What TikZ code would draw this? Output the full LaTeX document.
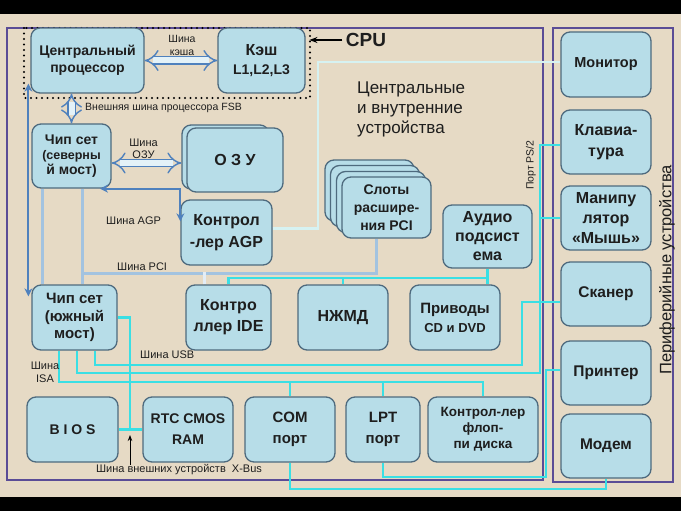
\documentclass[tikz,border=0pt]{standalone}
\usepackage{fontspec}
\setmainfont{Liberation Sans}
\usetikzlibrary{arrows.meta}
\definecolor{paper}{HTML}{E6DAC5}
\definecolor{boxfill}{HTML}{B7DDE8}
\definecolor{boxline}{HTML}{4E6A7E}
\definecolor{frameline}{HTML}{5A4C96}
\definecolor{wirecyan}{HTML}{3ADFE4}
\definecolor{pciblue}{HTML}{A3C3E0}
\definecolor{busblue}{HTML}{4F81BD}
\definecolor{palecyan}{HTML}{D6F2F2}
\definecolor{hollowfill}{HTML}{E4F2F8}
\definecolor{txt}{HTML}{1E1E1E}
\newcommand{\sz}[2]{\fontsize{#1}{#2}\selectfont}

\begin{document}
\begin{tikzpicture}[x=1pt, y=-1pt,
	box/.style={draw=boxline, fill=boxfill, line width=1.3pt, rounded corners=9pt, align=center, text=txt, minimum height=65pt, inner sep=1pt},
	wire/.style={draw=wirecyan, line width=2.2pt},
	pcibus/.style={draw=pciblue, line width=3pt},
	paleline/.style={draw=palecyan, line width=2.5pt},
	busarrow/.style={draw=busblue, line width=2pt},
	hollow/.style={draw=busblue, double=hollowfill, double distance=6pt, line width=1.4pt, {Implies}-{Implies}},
	lbl/.style={text=txt, font=\sz{11}{12.5}, align=center, inner sep=0pt},
	outline/.style={draw=frameline, line width=1.5pt}]
	\fill[black] (0,0) rectangle (681,511);
	\fill[paper] (0,14) rectangle (681,497);
	\draw[outline] (7,28) rectangle (543,480);
	\draw[outline] (553,28) rectangle (673,482);
	\draw[black, line width=2.4pt, line cap=round, dash pattern=on 0pt off 5.5pt] (24,28) rectangle (310,98);

	\node[box, minimum width=113pt, font=\bfseries\sz{14}{17}] (cpu) at (87.5,60.5) {Центральный\\процессор};
	\node[box, minimum width=87pt, font=\bfseries\sz{16}{19}] (cache) at (261.5,60.5) {Кэш\\\sz{14}{17}L1,L2,L3};
	\node[box, minimum width=79pt, minimum height=64pt, font=\bfseries\sz{14}{15}] (north) at (71.5,156) {Чип сет\\\sz{12.5}{15}(северны\\й мост)};
	\node[box, minimum width=87pt, minimum height=64pt] (ramback) at (225.5,157) {};
	\node[box, minimum width=96pt, minimum height=64pt, font=\bfseries\sz{16}{19}] (ram) at (235,160) {О З У};
	\node[box, minimum width=91pt, font=\bfseries\sz{16}{22}] (agp) at (226.5,232.5) {Контрол\\-лер AGP};
	\node[box, minimum width=89pt, minimum height=61pt] (slotsC) at (369.5,190.5) {};
	\node[box, minimum width=89pt, minimum height=61pt] (slotsB) at (375,196) {};
	\node[box, minimum width=89pt, minimum height=61pt] (slotsA) at (381,202) {};
	\node[box, minimum width=89pt, minimum height=61pt, font=\bfseries\sz{14}{18}] (slots) at (386.5,207.5) {Слоты\\расшире-\\ния PCI};
	\node[box, minimum width=89pt, minimum height=63pt, font=\bfseries\sz{16}{19}] (audio) at (487.5,236.5) {Аудио\\подсист\\ема};
	\node[box, minimum width=85pt, font=\bfseries\sz{15}{17.5}] (south) at (74.5,317.5) {Чип сет\\(южный\\мост)};
	\node[box, minimum width=85pt, font=\bfseries\sz{16}{21}] (ide) at (228.5,317.5) {Контро\\ллер IDE};
	\node[box, minimum width=90pt, font=\bfseries\sz{16}{19}] (hdd) at (343,317.5) {НЖМД};
	\node[box, minimum width=90pt, font=\bfseries\sz{15}{19}] (drives) at (455,317.5) {Приводы\\\sz{13}{19}CD и DVD};
	\node[box, minimum width=91pt, font=\bfseries\sz{14}{17}] (bios) at (72.5,429.5) {B I O S};
	\node[box, minimum width=90pt, font=\bfseries\sz{14}{21}] (rtc) at (188,429.5) {RTC CMOS\\RAM};
	\node[box, minimum width=90pt, font=\bfseries\sz{15}{21}] (com) at (290,429.5) {COM\\порт};
	\node[box, minimum width=74pt, font=\bfseries\sz{15}{21}] (lpt) at (383,429.5) {LPT\\порт};
	\node[box, minimum width=110pt, font=\bfseries\sz{13.5}{16}] (flop) at (483,429.5) {Контрол-лер\\флоп-\\пи диска};
	\node[box, minimum width=90pt, font=\bfseries\sz{14.5}{17}] (monitor) at (606,64.5) {Монитор};
	\node[box, minimum width=90pt, minimum height=64pt, font=\bfseries\sz{16}{21}] (kbd) at (606,142) {Клавиа-\\тура};
	\node[box, minimum width=90pt, minimum height=64pt, font=\bfseries\sz{16}{20}] (mouse) at (606,218) {Манипу\\лятор\\«Мышь»};
	\node[box, minimum width=90pt, minimum height=64pt, font=\bfseries\sz{15.5}{18}] (scanner) at (606,294) {Сканер};
	\node[box, minimum width=90pt, minimum height=64pt, font=\bfseries\sz{15.5}{18}] (printer) at (606,373) {Принтер};
	\node[box, minimum width=90pt, minimum height=64pt, font=\bfseries\sz{15.5}{18}] (modem) at (606,446) {Модем};

	\coordinate (nsA) at (42,0);
	\coordinate (nsB) at (82,0);
	\coordinate (pcibus) at (0,273);
	\coordinate (drvbus) at (0,278);
	\coordinate (usbbus) at (522,365);
	\coordinate (ps2bus) at (540,373);
	\coordinate (isabus) at (0,382);
	\coordinate (xbus) at (130,430);
	\coordinate (lptbus) at (546,477);
	\coordinate (agpturn) at (318,62);

	\draw[pcibus] (north.south -| nsA) -- (south.north -| nsA);
	\draw[pcibus] (north.south -| nsB) -- (south.north -| nsB);
	\draw[pcibus] (nsB |- pcibus) -| ([xshift=-10pt]slots.south);
	\draw[draw=white!70!pciblue, line width=2.5pt] ([xshift=-24pt]ide.north) -- ++(0,-12);

	\draw[wire] (ide.north) |- (audio.south |- drvbus);
	\draw[wire] (hdd.north) -- (hdd.north |- drvbus);
	\draw[wire] (audio.south) -- (drives.north -| audio.south);
	\draw[wire] ([xshift=20.5pt]south.south) |- (usbbus) |- ([yshift=-8pt]scanner.west);
	\draw[wire] ([xshift=2.5pt]south.south) |- (ps2bus) |- ([yshift=-3pt]kbd.west);
	\draw[wire] (ps2bus |- mouse.west) -- (mouse.west);
	\draw[wire] ([xshift=-15.5pt]south.south) |- (flop.north |- isabus) -- (flop.north);
	\draw[wire] (com.north |- isabus) -- (com.north);
	\draw[wire] (lpt.north |- isabus) -- (lpt.north);
	\draw[wire] (south.east) -| (xbus);
	\draw[wire] (bios.east) -- (rtc.west);
	\draw[wire] (com.south) |- ([yshift=-10pt]modem.south) -- (modem.south);
	\draw[wire] (lpt.south) |- (lptbus) |- ([yshift=3pt]printer.west);
	\draw[paleline] ([yshift=4pt]agp.east) -| (agpturn) |- ([yshift=2.5pt]monitor.west);

	\draw[busarrow, {Stealth[length=8pt,width=8pt]}-{Stealth[length=8pt,width=8pt]}] ([xshift=28.5pt]north.south) -| ([yshift=-22pt]agp.north west);
	\draw[busarrow, {Stealth[length=8pt,width=8pt]}-{Stealth[length=8pt,width=8pt]}] ([xshift=-2pt,yshift=10pt]cpu.south west) -- ([xshift=-3pt,yshift=-12pt]south.north west);
	\draw[hollow] (cpu.east) -- (cache.west);
	\draw[hollow] (north.north |- cpu.south) -- (north.north);
	\draw[hollow] ([yshift=-7pt]north.east) -- ([yshift=-7pt]north.east -| ramback.west);

	\node[lbl, font=\sz{10.5}{12.5}] (cachebuslbl) at (182,45.5) {Шина\\кэша};
	\node[lbl, font=\sz{10.5}{12}, anchor=west] (fsblbl) at (85,108) {Внешняя шина процессора FSB};
	\node[lbl] (rambuslbl) at (143.5,149) {Шина\\ОЗУ};
	\node[lbl, anchor=west] (agpbuslbl) at (106,221) {Шина AGP};
	\node[lbl, anchor=west] (pcibuslbl) at (117,267) {Шина PCI};
	\node[lbl, anchor=west] (usbbuslbl) at (140,355) {Шина USB};
	\node[lbl] (isabuslbl) at (45,372.5) {Шина\\ISA};
	\node[lbl, rotate=90, font=\sz{10.5}{12}] (ps2lbl) at (531,165) {Порт PS/2};
	\node[lbl, anchor=north west, align=left, font=\sz{17}{20}] (innerlbl) at (357,82) {Центральные\\и внутренние\\устройства};
	\node[lbl, rotate=90, font=\sz{16.5}{18}] (perilbl) at (667,270) {Периферийные устройства};
	\node[text=txt, font=\bfseries\sz{19}{20}] (cpulbl) at (366,40) {CPU};
	\draw[black, line width=1.6pt, -{Stealth[length=8pt]}] (cpulbl.west) -- ++(-33,0);
	\node[lbl] (xbuslbl) at (179,470) {Шина внешних устройств\ \ X-Bus};
	\draw[black, line width=1pt, -{Stealth[length=6pt]}] (xbuslbl.north -| xbus) -- ([yshift=-5pt]xbus);
\end{tikzpicture}
\end{document}
